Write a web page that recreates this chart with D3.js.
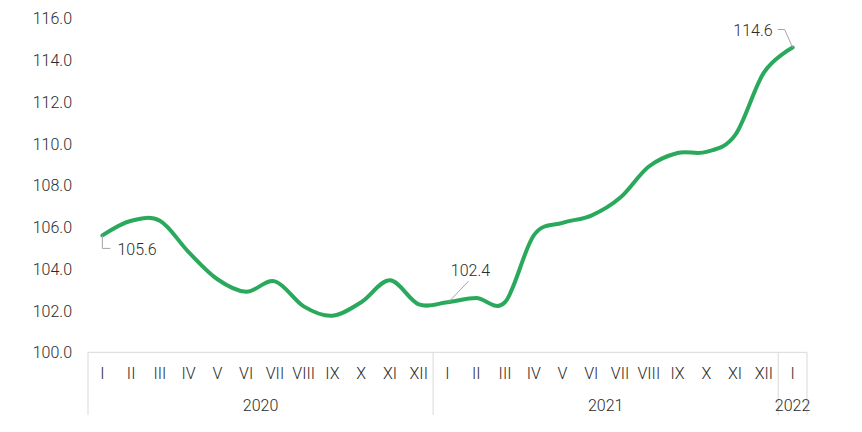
<!DOCTYPE html>
<html>
<head>
  <meta charset="utf-8">
  <title>index</title>
  <script src="https://d3js.org/d3.v7.min.js"></script>
<style>
    body { margin: 0; background: #fff; }
    text { font-family: Roboto, "Noto Sans", sans-serif; font-weight: 300; fill: #2b2b2b; }
    </style>
</head>
<body>
<div id="chart"></div>
<script>
// data
var years = ["2020", "2021", "2022"];
var months2020 = ["I","II","III","IV","V","VI","VII","VIII","IX","X","XI","XII"];
var months2021 = ["I","II","III","IV","V","VI","VII","VIII","IX","X","XI","XII"];
var months2022 = ["I"];
var values2020 = [105.6, 106.3, 106.3, 104.8, 103.5, 102.9, 103.4, 102.2, 101.75, 102.4, 103.45, 102.3];
var values2021 = [102.4, 102.6, 102.4, 105.6, 106.2, 106.55, 107.4, 108.9, 109.55, 109.6, 110.4, 113.4];
var values2022 = [114.6];
var yTicks = [100, 102, 104, 106, 108, 110, 112, 114, 116];
var labelled = [0, 12, 24]; // points with a value label

var W = 862, H = 432;
var plotLeft = 88, plotRight = 807, plotTop = 18.3, plotBottom = 352.3;

var months = [months2020, months2021, months2022];
var vals = [values2020, values2021, values2022];
var data = [];
years.forEach(function(yr, i) {
  months[i].forEach(function(m, j) {
    data.push({ key: yr + "-" + m, month: m, year: yr, value: vals[i][j] });
  });
});

var svg = d3.select("#chart").append("svg")
  .attr("width", W)
  .attr("height", H);

var x = d3.scaleBand()
  .domain(data.map(function(d) { return d.key; }))
  .range([plotLeft, plotRight])
  .padding(0);

var y = d3.scaleLinear()
  .domain([100, 116])
  .range([plotBottom, plotTop]);

function cx(d) { return x(d.key) + x.bandwidth() / 2; }

// Y axis (labels only)
var yAxis = svg.append("g")
  .attr("transform", "translate(" + (plotLeft - 8) + ",0)")
  .call(d3.axisLeft(y).tickValues(yTicks).tickFormat(d3.format(".1f")).tickSize(0));
yAxis.select(".domain").remove();
yAxis.selectAll("text")
  .attr("x", -8)
  .attr("dy", "0.35em")
  .style("font-size", "16px")
  .style("font-family", "Roboto, sans-serif")
  .attr("fill", null);

// category axis frame
var grey = "#d9d9d9";
svg.append("line")
  .attr("x1", plotLeft).attr("x2", plotRight)
  .attr("y1", plotBottom).attr("y2", plotBottom)
  .attr("stroke", grey).attr("stroke-width", 1);

var sepX = years.map(function(yr) {
  return x(data.find(function(d) { return d.year === yr; }).key);
});
sepX.push(plotRight);
svg.selectAll(".sep")
  .data(sepX)
  .enter().append("line")
  .attr("x1", function(d) { return d; })
  .attr("x2", function(d) { return d; })
  .attr("y1", plotBottom)
  .attr("y2", 415)
  .attr("stroke", grey).attr("stroke-width", 1);

// month labels
svg.selectAll(".mon")
  .data(data)
  .enter().append("text")
  .attr("x", cx)
  .attr("y", 373.5)
  .attr("dy", "0.35em")
  .attr("text-anchor", "middle")
  .style("font-size", "16px")
  .text(function(d) { return d.month; });

// year labels
svg.selectAll(".yr")
  .data(years)
  .enter().append("text")
  .attr("x", function(d, i) { return (sepX[i] + sepX[i + 1]) / 2; })
  .attr("y", 405.5)
  .attr("dy", "0.35em")
  .attr("text-anchor", "middle")
  .style("font-size", "16px")
  .text(function(d) { return d; });

// the line
var line = d3.line()
  .x(cx)
  .y(function(d) { return y(d.value); })
  .curve(d3.curveCardinal.tension(0));

svg.append("path")
  .datum(data)
  .attr("d", line)
  .attr("fill", "none")
  .attr("stroke", "#2aa95c")
  .attr("stroke-width", 4)
  .attr("stroke-linecap", "round");

// data labels with leader lines
var lab = labelled.map(function(i) { return data[i]; });
var leader = [
  function(px, py) { return [[px, py], [px, py + 13], [px + 8, py + 13]]; },
  function(px, py) { return [[px + 1, py], [px + 21, py - 21]]; },
  function(px, py) { return [[px, py], [px - 8, py - 18], [px - 15, py - 18]]; }
];
var textPos = [
  function(px, py) { return [px + 15, py + 14, "start"]; },
  function(px, py) { return [px + 23, py - 32, "middle"]; },
  function(px, py) { return [px - 20, py - 17, "end"]; }
];
lab.forEach(function(d, i) {
  var px = cx(d), py = y(d.value);
  svg.append("path")
    .attr("d", d3.line()(leader[i](px, py)))
    .attr("fill", "none")
    .attr("stroke", "#a6a6a6")
    .attr("stroke-width", 1);
  var t = textPos[i](px, py);
  svg.append("text")
    .attr("x", t[0])
    .attr("y", t[1])
    .attr("dy", "0.35em")
    .attr("text-anchor", t[2])
    .style("font-size", "16px")
    .text(d3.format(".1f")(d.value));
});
</script>
</body>
</html>
